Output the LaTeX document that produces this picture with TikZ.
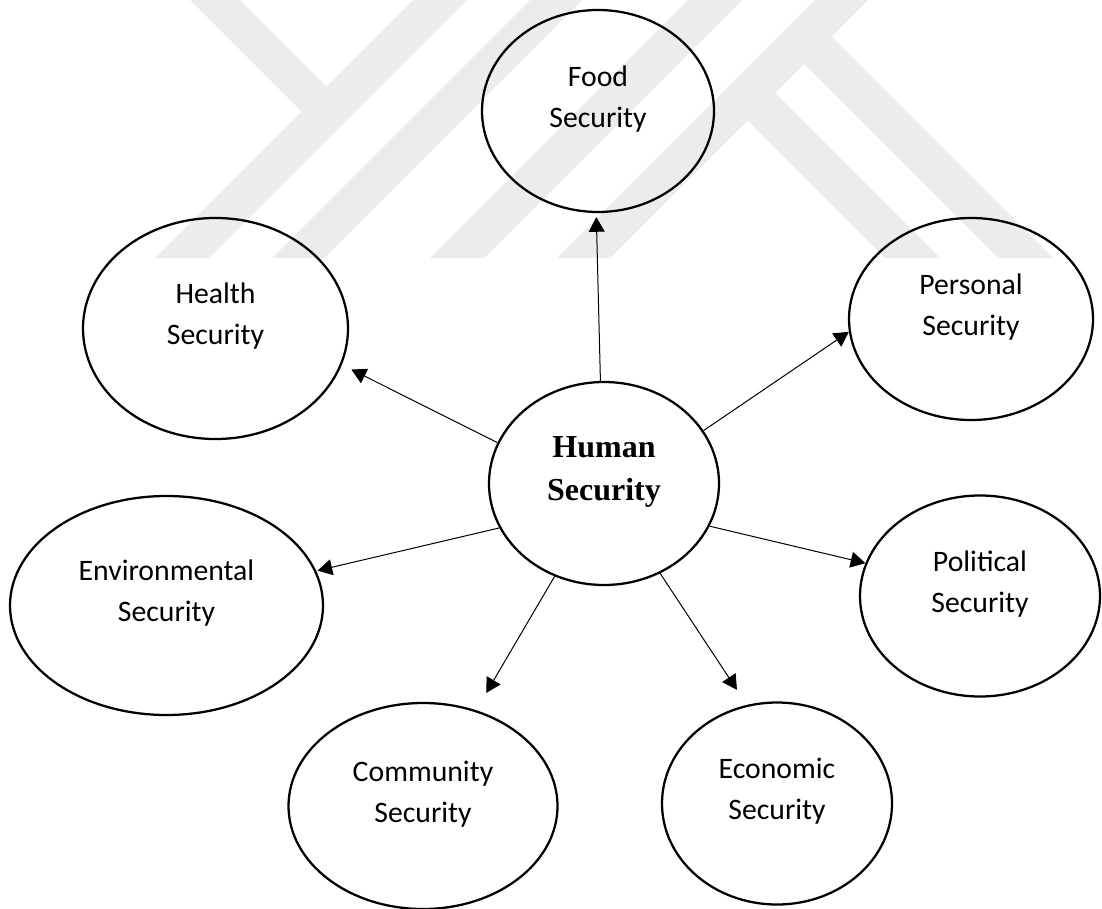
\documentclass[tikz,border=0pt]{standalone}
\usepackage{fontspec}
\setmainfont{Carlito}
\newfontfamily\hubfont{Liberation Serif}
\usetikzlibrary{arrows.meta,shapes.geometric}
\pgfdeclarelayer{background}
\pgfsetlayers{background,main}
\definecolor{mark}{RGB}{236,236,236}
\tikzstyle{bubble}=[ellipse,draw,line width=1.7pt,inner sep=0pt]
\tikzstyle{tag}=[align=center,yshift=9pt,font=\fontsize{22.3}{30.75}\selectfont]
\tikzstyle{hubtag}=[align=center,yshift=9pt,font=\hubfont\bfseries\fontsize{24}{32.25}\selectfont]
\tikzstyle{link}=[draw,line width=0.75pt,-{Triangle[length=11pt,width=12pt]}]
\tikzstyle{band}=[fill=mark]

\begin{document}
\begin{tikzpicture}[x=0.75pt,y=-0.75pt]
    \useasboundingbox (0,0) rectangle (1102,909);

    % The centre
    \node[bubble,minimum width=172.5pt,minimum height=152.25pt] (human) at (604,483.5) {};
    \node[hubtag] (human-txt) at (human) {Human\\Security};

    % Then the seven kinds of security round it
    \foreach \pos/\name/\w/\h/\txt in {{(598,111)/food/232/202/{Food\\Security}},
        {(215.5,328.5)/health/265/221/{Health\\Security}},
        {(971,319)/personal/244/202/{Personal\\Security}},
        {(166.5,605.5)/env/313/219/{Environmental\\Security}},
        {(980,596)/political/240/201/{Political\\Security}},
        {(423,806)/community/269/206/{Community\\Security}},
        {(777,803.5)/economic/230/202/{Economic\\Security}}}
    {
        \node[bubble,minimum width=\w*0.75pt,minimum height=\h*0.75pt] (\name) at \pos {};
        \node[tag] (\name-txt) at (\name) {\txt};
    }

    % Arrows from the centre
    \foreach \from/\dest/\to/\gap in {92.3/food/269.5/3, 159.3/health/344.6/8,
        28.6/personal/186.1/0, 203.2/env/13.3/1, -22.7/political/164.7/0,
        242.6/community/61.8/15, 302.1/economic/107.8/13.5}
        \path[link,shorten >=\gap pt] (human.\from) -- (\dest.\to);

    % Watermark behind everything
    \begin{pgfonlayer}{background}
        \begin{scope}
            \clip (0,0) rectangle (1102,258);
            \fill[band] (190,0) -- (240,0) -- (326.5,86.5) -- (301.5,111.5) -- cycle;
            \fill[band] (413,0) -- (467,0) -- (209,258) -- (155,258) -- cycle;
            \fill[band] (530,0) -- (582,0) -- (324,258) -- (272,258) -- cycle;
            \fill[band] (688,0) -- (742,0) -- (484,258) -- (430,258) -- cycle;
            \fill[band] (815,0) -- (868,0) -- (610,258) -- (557,258) -- cycle;
            \fill[band] (747.5,120.5) -- (775,93) -- (940,258) -- (885,258) -- cycle;
            \fill[band] (804,64) -- (831.5,36.5) -- (1053,258) -- (998,258) -- cycle;
        \end{scope}
    \end{pgfonlayer}
\end{tikzpicture}
\end{document}
